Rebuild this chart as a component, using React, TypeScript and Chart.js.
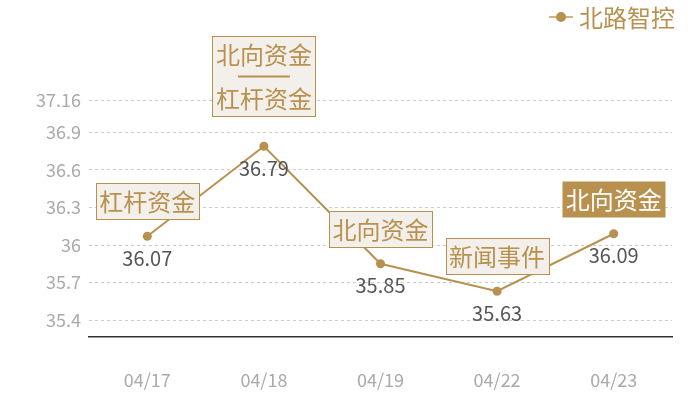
import Chart from 'chart.js/auto';
import { useRef, useEffect } from 'react';

const categories = ['04/17', '04/18', '04/19', '04/22', '04/23'];
const prices = [36.07, 36.79, 35.85, 35.63, 36.09];
const yTicks = [35.4, 35.7, 36, 36.3, 36.6, 36.9, 37.16];
const yMin = 35.264;
const yMax = 37.16;
// event tags above each point ('——' is drawn as a rule)
const notes = [
  ['杠杆资金'],
  ['北向资金', '——', '杠杆资金'],
  ['北向资金'],
  ['新闻事件'],
  ['北向资金'],
];
const highlighted = [false, false, false, false, true];

const GOLD = '#b8914f';
const FONT = '"Noto Sans CJK SC", "Noto Sans", sans-serif';

const overlay = {
  id: 'overlay',
  afterDatasetsDraw(chart: any) {
    const ctx = chart.ctx;
    const meta = chart.getDatasetMeta(0);
    ctx.save();

    // tag boxes
    ctx.font = `24px ${FONT}`;
    ctx.textAlign = 'center';
    ctx.textBaseline = 'middle';
    meta.data.forEach((pt: any, i: number) => {
      const lines = notes[i];
      if (!lines) return;
      const multi = lines.length > 1;
      const w = Math.max(...lines.map((l) => (l === '——' ? 52 : ctx.measureText(l).width))) + 7;
      const h = multi ? 80 : 36;
      const cy = pt.y - (multi ? 70 : 35);
      const left = Math.round(pt.x - w / 2) + 0.5;
      const top = Math.round(cy - h / 2) + 0.5;
      ctx.fillStyle = highlighted[i] ? GOLD : '#f3f0eb';
      ctx.fillRect(left, top, w, h);
      if (!highlighted[i]) {
        ctx.strokeStyle = GOLD;
        ctx.lineWidth = 1;
        ctx.strokeRect(left, top, w, h);
      }
      const color = highlighted[i] ? '#ffffff' : GOLD;
      let y = top + 6;
      lines.forEach((l) => {
        if (l === '——') {
          ctx.strokeStyle = color;
          ctx.lineWidth = 2;
          ctx.beginPath();
          ctx.moveTo(pt.x - 26, y + 10);
          ctx.lineTo(pt.x + 26, y + 10);
          ctx.stroke();
          y += 20;
        } else {
          ctx.fillStyle = color;
          ctx.fillText(l, pt.x, y + 12);
          y += 24;
        }
      });
    });

    // value labels
    ctx.font = `20px ${FONT}`;
    ctx.fillStyle = '#555555';
    meta.data.forEach((pt: any, i: number) => {
      ctx.fillText(String(prices[i]), pt.x, pt.y + 22);
    });

    // legend
    const label = chart.data.datasets[0].label;
    ctx.strokeStyle = '#d2b483';
    ctx.lineWidth = 2;
    ctx.beginPath();
    ctx.moveTo(549, 17);
    ctx.lineTo(573, 17);
    ctx.stroke();
    ctx.fillStyle = GOLD;
    ctx.beginPath();
    ctx.arc(561, 17, 5, 0, Math.PI * 2);
    ctx.fill();
    ctx.font = `24px ${FONT}`;
    ctx.textAlign = 'left';
    ctx.fillText(label, 579, 18);

    ctx.restore();
  },
};

const App = () => {
  const ref = useRef<HTMLCanvasElement>(null);
  const chart = useRef<Chart>();

  useEffect(() => {
    if (ref.current) {
      chart.current = new Chart(ref.current, {
        type: 'line',
        data: {
          labels: categories,
          datasets: [
            {
              label: '北路智控',
              data: prices,
              borderColor: GOLD,
              backgroundColor: GOLD,
              borderWidth: 2,
              pointRadius: 4.5,
              pointBackgroundColor: GOLD,
              pointBorderWidth: 0,
              tension: 0,
            },
          ],
        },
        options: {
          animation: false,
          responsive: true,
          maintainAspectRatio: false,
          layout: { padding: { top: 100, right: 28, left: 0, bottom: 0 } },
          plugins: {
            legend: { display: false },
            tooltip: { enabled: false },
          },
          scales: {
            x: {
              offset: true,
              grid: { display: false },
              border: { display: true, color: '#333333', width: 1.5 },
              ticks: {
                color: '#aaaaaa',
                font: { family: FONT, size: 18 },
                padding: 24,
                maxRotation: 0,
              },
              afterFit: (scale: any) => {
                scale.height = 63;
              },
            },
            y: {
              min: yMin,
              max: yMax,
              grid: { color: '#cccccc', lineWidth: 1, drawTicks: false },
              border: { display: false, dash: [3, 3] },
              ticks: {
                color: '#aaaaaa',
                font: { family: FONT, size: 18 },
                padding: 8,
                callback: (v: any) => String(v),
              },
              afterBuildTicks: (scale: any) => {
                scale.ticks = yTicks.map((v) => ({ value: v }));
              },
              afterFit: (scale: any) => {
                scale.width = 89;
              },
            },
          },
        },
        plugins: [overlay],
      });
    }

    return () => {
      if (chart.current) {
        chart.current.destroy();
      }
    };
  }, []);

  return (
    <div style={{ position: 'fixed', left: 0, top: 0, width: 700, height: 400, background: '#fff' }}>
      <canvas ref={ref}></canvas>
    </div>
  );
};

export default App;
